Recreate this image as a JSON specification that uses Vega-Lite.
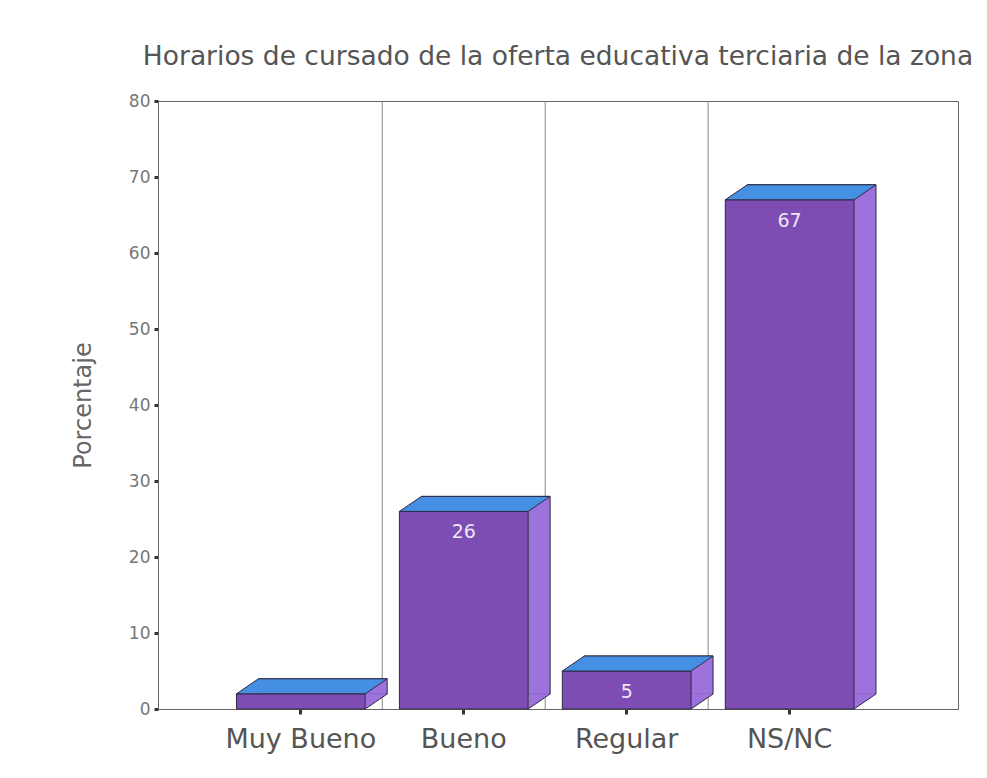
{
  "$schema": "https://vega.github.io/schema/vega-lite/v6.json",
  "width": 800,
  "height": 608,
  "autosize": {"type": "none"},
  "padding": {"left": 158, "top": 101, "right": 29, "bottom": 69},
  "background": "white",
  "config": {
    "view": {"stroke": "#666", "strokeWidth": 1},
    "font": "DejaVu Sans"
  },
  "title": {
    "text": "Horarios de cursado de la oferta educativa terciaria de la zona",
    "fontSize": 26.5,
    "font": "DejaVu Sans",
    "fontWeight": "normal",
    "color": "#555",
    "anchor": "middle",
    "offset": 22
  },
  "data": {
    "values": [
      {"categoria": "Muy Bueno", "valor": 2},
      {"categoria": "Bueno", "valor": 26},
      {"categoria": "Regular", "valor": 5},
      {"categoria": "NS/NC", "valor": 67}
    ]
  },
  "encoding": {
    "x": {
      "field": "categoria",
      "type": "nominal",
      "sort": ["Muy Bueno", "Bueno", "Regular", "NS/NC"],
      "scale": {"paddingInner": 0.21, "paddingOuter": 0.56, "align": 0.43},
      "axis": {
        "title": null,
        "labelAngle": 0,
        "labelFontSize": 27,
        "labelColor": "#555",
        "labelPadding": 12,
        "tickSize": 5,
        "tickWidth": 3,
        "tickColor": "#333",
        "domainColor": "#666",
        "grid": false
      }
    }
  },
  "layer": [
    {
      "transform": [{"filter": "datum.categoria != 'Muy Bueno'"}],
      "mark": {"type": "rule", "xOffset": -81.5, "color": "#888", "strokeWidth": 1},
      "encoding": {}
    },
    {
      "mark": {"type": "bar", "xOffset": 22, "yOffset": -15, "fill": "#9d72dc", "stroke": "#2e2840", "strokeWidth": 1},
      "encoding": {
        "y": {
          "field": "valor",
          "type": "quantitative",
          "scale": {"domain": [0, 80]},
          "axis": {
            "values": [0, 10, 20, 30, 40, 50, 60, 70, 80],
            "title": "Porcentaje",
            "titleFontSize": 24,
            "titleFontWeight": "normal",
            "titleColor": "#666",
            "titlePadding": 33,
            "labelFontSize": 17,
            "labelColor": "#777",
            "labelPadding": 4,
            "tickSize": 4,
            "tickWidth": 3,
            "tickColor": "#333",
            "domainColor": "#666",
            "grid": false
          }
        }
      }
    },
    {
      "mark": {"type": "point", "shape": "M 1 -0.245 L 1.334 -0.245 L 1.334 -0.228 L 1 0 Z", "size": 16564, "filled": true, "fill": "#9d72dc", "strokeWidth": 0, "opacity": 1},
      "encoding": {"y": {"datum": 0, "type": "quantitative"}}
    },
    {
      "mark": {"type": "point", "shape": "M 1 0 L 1.342 -0.233", "size": 16564, "filled": false, "stroke": "#2e2840", "strokeWidth": 1, "opacity": 1},
      "encoding": {"y": {"datum": 0, "type": "quantitative"}}
    },
    {
      "mark": {"type": "bar", "fill": "#7d4db3", "stroke": "#2e2840", "strokeWidth": 1},
      "encoding": {"y": {"field": "valor", "type": "quantitative"}}
    },
    {
      "mark": {"type": "point", "shape": "M -1 0 L 1 0 L 1.342 -0.233 L -0.658 -0.233 Z", "size": 16564, "filled": true, "fill": "#4690e4", "stroke": "#2e2840", "strokeWidth": 1, "opacity": 1},
      "encoding": {"y": {"field": "valor", "type": "quantitative"}}
    },
    {
      "transform": [{"filter": "datum.categoria != 'Muy Bueno'"}],
      "mark": {"type": "text", "dy": 21, "baseline": "middle", "align": "center", "fill": "#ece6f5", "fontSize": 19},
      "encoding": {
        "y": {"field": "valor", "type": "quantitative"},
        "text": {"field": "valor", "type": "quantitative"}
      }
    }
  ]
}
